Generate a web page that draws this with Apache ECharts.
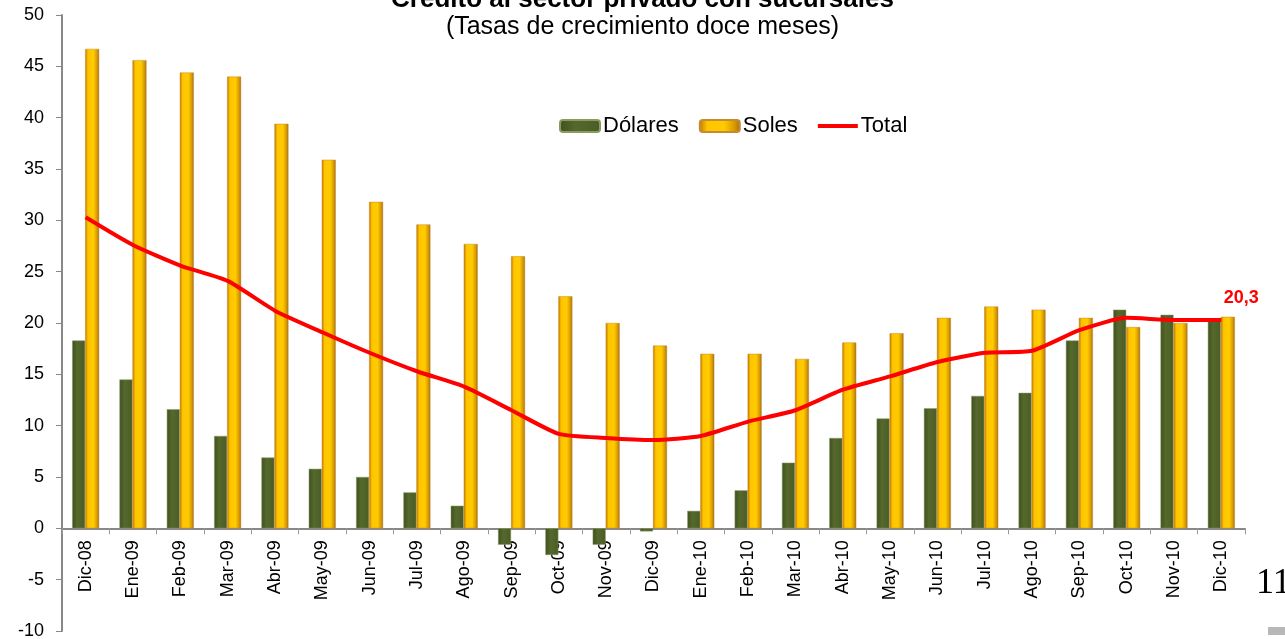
<!DOCTYPE html>
<html>
<head>
<meta charset="utf-8">
<script src="https://cdn.jsdelivr.net/npm/echarts@6/dist/echarts.min.js"></script>
<style>
  html, body { margin: 0; padding: 0; background: #fff; }
  #main { width: 1285px; height: 639px; }
</style>
</head>
<body>
<div id="main"></div>
<script>
// datos
var meses = ['Dic-08', 'Ene-09', 'Feb-09', 'Mar-09', 'Abr-09', 'May-09', 'Jun-09', 'Jul-09', 'Ago-09',
    'Sep-09', 'Oct-09', 'Nov-09', 'Dic-09', 'Ene-10', 'Feb-10', 'Mar-10', 'Abr-10', 'May-10', 'Jun-10',
    'Jul-10', 'Ago-10', 'Sep-10', 'Oct-10', 'Nov-10', 'Dic-10'];
var dolares = [18.3, 14.5, 11.6, 9.0, 6.9, 5.8, 5.0, 3.5, 2.2, -1.6, -2.6, -1.6, -0.3, 1.7, 3.7, 6.4,
    8.8, 10.7, 11.7, 12.9, 13.2, 18.3, 21.3, 20.8, 20.3];
var soles = [46.7, 45.6, 44.4, 44.0, 39.4, 35.9, 31.8, 29.6, 27.7, 26.5, 22.6, 20.0, 17.8, 17.0, 17.0,
    16.5, 18.1, 19.0, 20.5, 21.6, 21.3, 20.5, 19.6, 20.0, 20.6];
var total = [30.3, 27.6, 25.6, 24.1, 21.2, 19.1, 17.1, 15.3, 13.8, 11.5, 9.2, 8.8, 8.6, 9.0, 10.4, 11.5,
    13.5, 14.8, 16.2, 17.1, 17.3, 19.3, 20.5, 20.3, 20.3];

var yMin = -10, yMax = 50;
var gridTop = 15, gridBottom = 8, alto = 639;

var dom = document.getElementById('main');
var myChart = echarts.init(dom);

var verde = new echarts.graphic.LinearGradient(0, 0, 1, 0, [
    {offset: 0, color: '#3f5020'},
    {offset: 0.4, color: '#56692c'},
    {offset: 1, color: '#4a5c25'}
]);
var amarillo = new echarts.graphic.LinearGradient(0, 0, 1, 0, [
    {offset: 0, color: '#b87400'},
    {offset: 0.2, color: '#ffc400'},
    {offset: 0.6, color: '#ffcc00'},
    {offset: 0.85, color: '#d99a00'},
    {offset: 1, color: '#9a6a20'}
]);

// ultimo punto con etiqueta (la etiqueta necesita un simbolo, aunque sea invisible)
var totalData = total.map(function (v, i) {
    if (i === total.length - 1) {
        return {
            value: v,
            label: {
                show: true, position: 'top', offset: [20, -8],
                formatter: function (p) { return String(p.value).replace('.', ','); },
                color: '#ff0000', fontWeight: 'bold', fontSize: 18
            }
        };
    }
    return v;
});

// la linea del eje x va en cero: se sube el eje con offset
var plotH = alto - gridTop - gridBottom;
var ejeOffset = -plotH * (0 - yMin) / (yMax - yMin);

var option = {
    animation: false,
    textStyle: {fontFamily: 'Liberation Sans, Arial, sans-serif'},
    title: {
        text: 'Crédito al sector privado con sucursales',
        subtext: '(Tasas de crecimiento doce meses)',
        left: 'center',
        top: -18,
        itemGap: 2,
        textStyle: {fontSize: 26, fontWeight: 'bold', color: '#000'},
        subtextStyle: {fontSize: 25, color: '#000'}
    },
    legend: {
        data: [
            {name: 'Dólares'},
            {name: 'Soles'},
            {name: 'Total', icon: 'path://M0,0 L40,0 L40,4 L0,4 Z'}
        ],
        left: 554,
        top: 110,
        itemWidth: 40,
        itemHeight: 12,
        itemGap: 20,
        textStyle: {fontSize: 22, color: '#000', padding: [0, 0, 0, -2]}
    },
    grid: {left: 62, right: 40, top: gridTop, bottom: gridBottom, outerBoundsMode: 'none', containLabel: false},
    xAxis: {
        type: 'category',
        data: meses,
        offset: ejeOffset,
        axisLine: {onZero: false, lineStyle: {color: '#888', width: 2}},
        axisTick: {show: true, length: 6, lineStyle: {color: '#999'}},
        axisLabel: {rotate: 90, interval: 0, fontSize: 18, color: '#000', margin: 12}
    },
    yAxis: {
        type: 'value',
        min: yMin,
        max: yMax,
        interval: 5,
        splitLine: {show: false},
        axisLine: {show: true, lineStyle: {color: '#888', width: 2}},
        axisTick: {show: true, length: 6, lineStyle: {color: '#888'}},
        axisLabel: {fontSize: 18, color: '#000', margin: 18}
    },
    series: [
        {
            name: 'Dólares',
            type: 'bar',
            data: dolares,
            barWidth: 13,
            barGap: '0%',
            itemStyle: {color: verde, borderColor: '#8a9a60', borderWidth: 0.5}
        },
        {
            name: 'Soles',
            type: 'bar',
            data: soles,
            barWidth: 14,
            itemStyle: {color: amarillo, borderColor: '#c88a30', borderWidth: 0.5}
        },
        {
            name: 'Total',
            type: 'line',
            data: totalData,
            symbol: 'circle',
            symbolSize: 0,
            showSymbol: true,
            smooth: 0.2,
            lineStyle: {color: '#ff0000', width: 4},
            itemStyle: {color: '#ff0000'},
            z: 5
        }
    ],
    graphic: [
        {
            type: 'text',
            left: 1256,
            top: 566,
            style: {text: '11', fontSize: 36, fontFamily: 'Liberation Serif', fill: '#000'}
        },
        {
            type: 'rect',
            left: 1268,
            top: 627,
            shape: {width: 17, height: 8},
            style: {fill: '#b8b8b8'}
        }
    ]
};

myChart.setOption(option);
</script>
</body>
</html>
